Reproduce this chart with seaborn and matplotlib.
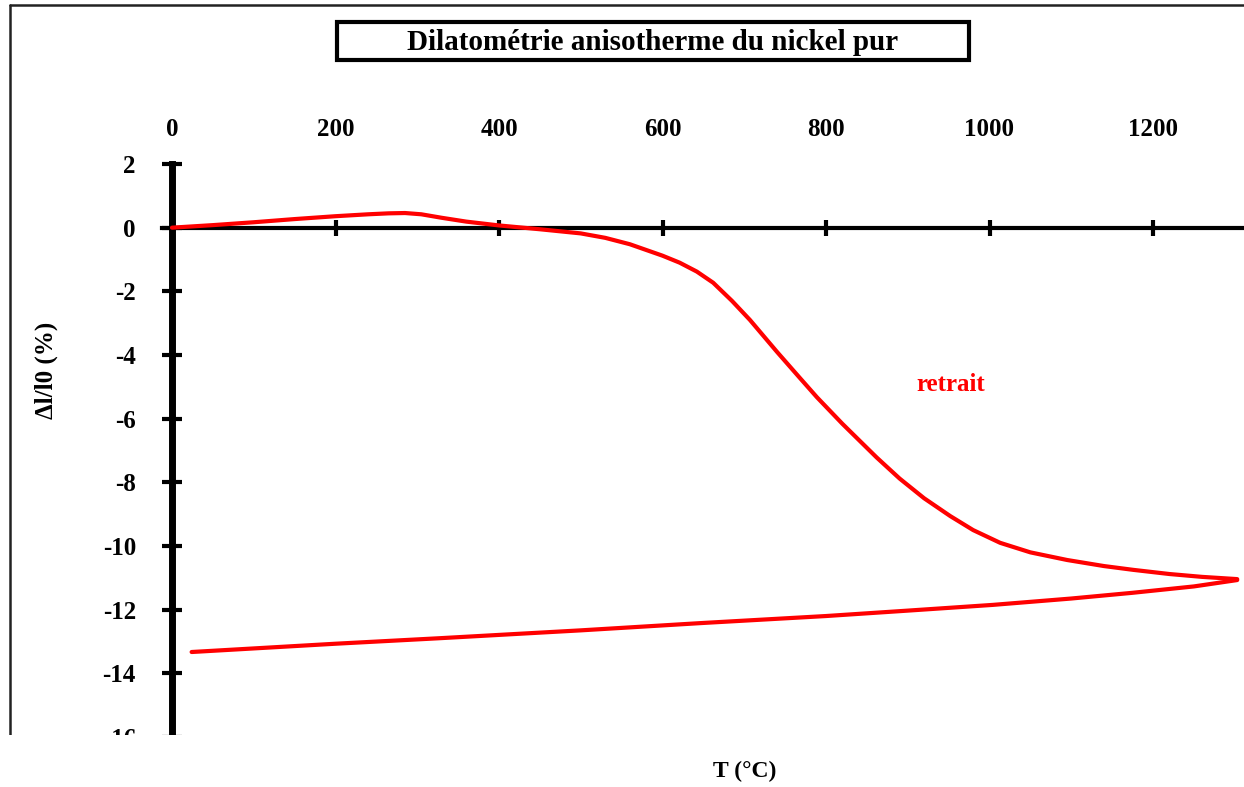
import matplotlib
matplotlib.use("Agg")
import matplotlib.pyplot as plt
import seaborn as sns
import pandas as pd
from matplotlib.patches import Rectangle
from matplotlib.lines import Line2D

# ---- data ----
heat_T = [0, 50, 100, 150, 200, 240, 265, 285, 305, 330, 360, 400, 450, 500, 530, 560,
          600, 621, 642, 662, 685, 707, 740, 768, 789, 820, 862, 890, 920, 952, 980,
          1013, 1050, 1095, 1140, 1176, 1220, 1260, 1303]
heat_dl = [0.0, 0.08, 0.17, 0.27, 0.36, 0.42, 0.45, 0.46, 0.42, 0.31, 0.19, 0.07, -0.05,
           -0.18, -0.32, -0.52, -0.88, -1.1, -1.38, -1.73, -2.3, -2.9, -3.9, -4.72,
           -5.33, -6.16, -7.22, -7.88, -8.5, -9.06, -9.5, -9.9, -10.2, -10.44, -10.63,
           -10.75, -10.88, -10.97, -11.04]
cool_T = [1303, 1250, 1175, 1100, 1004, 900, 800, 648, 500, 325, 200, 24]
cool_dl = [-11.07, -11.27, -11.47, -11.65, -11.85, -12.03, -12.2, -12.42, -12.65,
           -12.9, -13.07, -13.33]
x_ticks = [0, 200, 400, 600, 800, 1000, 1200]
y_ticks = [-16, -14, -12, -10, -8, -6, -4, -2, 0, 2]

title = "Dilatométrie anisotherme du nickel pur"
ylabel = "Δl/l0 (%)"
xlabel = "T (°C)"
note = "retrait"

sns.set_theme(style="white", rc={"text.color": "black", "xtick.color": "black",
                                 "ytick.color": "black", "axes.labelcolor": "black"})
plt.rcParams["font.family"] = ["Liberation Serif", "DejaVu Serif"]
plt.rcParams["font.weight"] = "bold"

W, H = 1244, 787
fig = plt.figure(figsize=(W / 100, H / 100), dpi=100)
fig.patch.set_facecolor("white")

px_per_T = (1153 - 172) / 1200.0
xmax = (W - 172) / px_per_T
ax = fig.add_axes([172 / W, 1 - 737 / H, (W - 172) / W, (737 - 164) / H])
ax.set_facecolor("white")

heat = pd.DataFrame({"T": heat_T, "dl": heat_dl})
cool = pd.DataFrame({"T": cool_T, "dl": cool_dl})
sns.lineplot(data=heat, x="T", y="dl", sort=False, estimator=None, color="#ff0000",
             lw=3.0, ax=ax, zorder=4, clip_on=False, solid_joinstyle="round")
sns.lineplot(data=cool, x="T", y="dl", sort=False, estimator=None, color="#ff0000",
             lw=3.0, ax=ax, zorder=4, clip_on=False, solid_capstyle="round",
             solid_joinstyle="round")

ax.set_xlim(0, xmax)
ax.set_ylim(-16, 2)
ax.set_xticks(x_ticks)
ax.set_yticks(y_ticks)
ax.set_xticklabels([str(v) for v in x_ticks])
ax.set_yticklabels([str(v) for v in y_ticks])

for s in ["top", "right"]:
    ax.spines[s].set_visible(False)
ax.spines["left"].set_position(("data", 0))
ax.spines["left"].set_linewidth(5)
ax.spines["left"].set_color("black")
ax.spines["bottom"].set_position(("data", 0))
ax.spines["bottom"].set_linewidth(3)
ax.spines["bottom"].set_color("black")
ax.spines["bottom"].set_bounds(-12, xmax)

ax.tick_params(axis="y", direction="inout", length=14, width=3, color="black",
               labelsize=18, pad=19, left=True, labelcolor="black")
ax.tick_params(axis="x", direction="inout", length=11, width=3, color="black",
               labelsize=18, bottom=True, top=False, labelbottom=False, labeltop=True,
               pad=11, labelcolor="black")
for lab in ax.get_xticklabels() + ax.get_yticklabels():
    lab.set_fontweight("bold")
ax.set_xlabel("")
ax.set_ylabel("")
ax.grid(False)

ax.text(952, -4.94, note, color="#ff0000", fontsize=18, fontweight="bold",
        ha="center", va="center")

# y label
fig.text(46 / W, 1 - 370 / H, ylabel, rotation=90, fontsize=18, fontweight="bold",
         ha="center", va="center", color="black")

# title with box
fig.text(653 / W, 1 - 42 / H, title, fontsize=21, fontweight="bold",
         ha="center", va="center", color="black")
fig.add_artist(Rectangle((337 / W, 1 - 60 / H), (969 - 337) / W, (60 - 22) / H,
                         transform=fig.transFigure, fill=False, lw=3, ec="black"))

# outer frame (left and top edges)
fig.add_artist(Line2D([10 / W, 10 / W], [1 - 5 / H, 0], transform=fig.transFigure,
                      color="#222222", lw=1.8))
fig.add_artist(Line2D([10 / W, 1], [1 - 5 / H, 1 - 5 / H], transform=fig.transFigure,
                      color="#222222", lw=1.8))

# white cut-off at the bottom, as in the reference
fig.add_artist(Rectangle((0, 0), 1, 1 - 735 / H, transform=fig.transFigure,
                         fc="white", ec="none", zorder=20))
fig.text(745 / W, 1 - 771 / H, xlabel, fontsize=17, fontweight="bold",
         ha="center", va="center", zorder=21, color="black")

fig.savefig("out.png", dpi=100, facecolor="white")
